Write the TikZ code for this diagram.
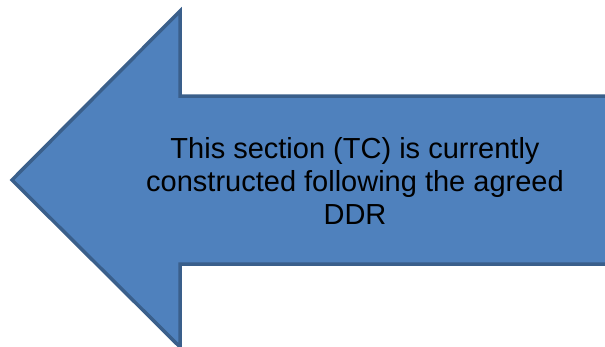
\documentclass[tikz,border=0pt]{standalone}
\usepackage{fontspec}
\setmainfont{Liberation Sans}
\definecolor{arrowfill}{HTML}{4F81BD}
\definecolor{arrowline}{HTML}{3A5F8B}
\begin{document}
\begin{tikzpicture}[x=1pt,y=-1pt]
        \tikzset{bigarrow/.style={fill=arrowfill, draw=arrowline, line width=3.5pt, line join=miter},
                 caption/.style={align=center, font=\fontsize{29}{33}\selectfont}}

        % page size
        \useasboundingbox (0,0) rectangle (605,346);
        \clip (0,0) rectangle (605,346);

        % arrow
        \draw[bigarrow] (12,180) -- (180,11) -- (180,96) -- (620,96)
                -- (620,264) -- (180,264) -- (180,347) -- cycle;

        % text
        \node[caption] (note) at (355,181) {This section (TC) is currently\\
                constructed following the agreed\\ DDR};
    \end{tikzpicture}
\end{document}
